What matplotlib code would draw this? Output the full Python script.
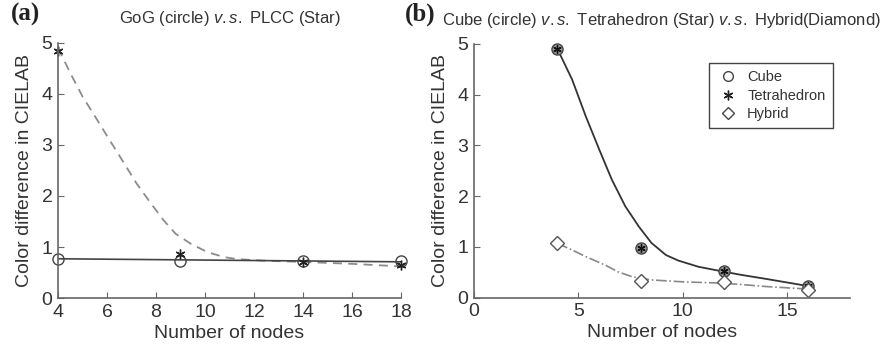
import matplotlib
matplotlib.use('Agg')
import matplotlib.pyplot as plt
from matplotlib.lines import Line2D

plt.rcParams['font.family'] = ['Liberation Sans', 'DejaVu Sans']
plt.rcParams['mathtext.fontset'] = 'custom'
plt.rcParams['mathtext.it'] = 'Liberation Sans:italic'
plt.rcParams['mathtext.rm'] = 'Liberation Sans'

# (a) GoG vs PLCC
nodes_a = [4, 9, 14, 18]
gog = [0.77, 0.73, 0.72, 0.72]
plcc = [4.85, 0.87, 0.71, 0.64]
gog_fit_x = [4, 18]
gog_fit_y = [0.77, 0.71]
plcc_fit_x = [4, 4.5, 5, 5.6, 6.1, 6.7, 7.2, 7.8, 8.3, 8.8, 9.4, 10.1, 10.8, 11.4, 12.5, 13.9, 16, 18]
plcc_fit_y = [4.9, 4.41, 3.95, 3.49, 3.1, 2.64, 2.25, 1.85, 1.53, 1.26, 1.07, 0.9, 0.8, 0.76, 0.73, 0.71, 0.67, 0.62]

# (b) Cube vs Tetrahedron vs Hybrid
nodes_b = [4, 8, 12, 16]
cube = [4.9, 0.97, 0.52, 0.23]
tetra = [4.9, 0.97, 0.52, 0.24]
hybrid = [1.07, 0.33, 0.31, 0.15]
ct_fit_x = [4, 4.7, 5.35, 6, 6.6, 7.25, 7.9, 8.5, 9.2, 9.8, 10.75, 12, 12.8, 14, 16]
ct_fit_y = [4.9, 4.3, 3.58, 2.92, 2.33, 1.8, 1.4, 1.08, 0.84, 0.73, 0.61, 0.51, 0.45, 0.37, 0.23]
hy_fit_x = [4, 4.7, 5.35, 6.3, 6.9, 7.6, 8.5, 10.1, 11.7, 12.8, 14, 16]
hy_fit_y = [1.07, 0.94, 0.81, 0.64, 0.51, 0.41, 0.35, 0.31, 0.29, 0.26, 0.22, 0.17]

axcol = '#666666'
txtcol = '#333333'

fig = plt.figure(figsize=(8.86, 3.49), dpi=100)
ax1 = fig.add_axes([0.0655, 0.146, 0.387, 0.731])
ax2 = fig.add_axes([0.535, 0.147, 0.424, 0.727])


def style(ax):
    for s in ['top', 'right']:
        ax.spines[s].set_visible(False)
    for s in ['left', 'bottom']:
        ax.spines[s].set_color(axcol)
        ax.spines[s].set_linewidth(1.2)
    ax.tick_params(direction='in', length=4, width=0.8, color=axcol,
                   labelsize=14, labelcolor=txtcol, pad=4)
    ax.set_ylim(0, 5)
    ax.set_yticks([0, 1, 2, 3, 4, 5])
    ax.set_xlabel('Number of nodes', fontsize=14, color=txtcol, labelpad=3)
    ax.set_ylabel('Color difference in CIELAB', fontsize=14, color=txtcol, labelpad=6)


# panel (a)
ax1.plot(plcc_fit_x, plcc_fit_y, '--', color='#8c8c8c', lw=1.3, dashes=(5, 3.5))
ax1.plot(gog_fit_x, gog_fit_y, '-', color='#444444', lw=1.2)
ax1.plot(nodes_a, gog, 'o', mfc='none', mec='#444444', ms=8, mew=1, clip_on=False)
ax1.plot(nodes_a, plcc, ls='none', marker=(6, 2, 0), color='#222222', ms=7, mew=1, clip_on=False)
ax1.set_xlim(4, 18)
ax1.set_xticks(range(4, 19, 2))
style(ax1)
ax1.set_title('GoG (circle) $\\it{v.s.}$ PLCC (Star)', fontsize=12, color=txtcol, pad=14)

# panel (b)
ax2.plot(ct_fit_x, ct_fit_y, '-', color='#333333', lw=1.3)
ax2.plot(hy_fit_x, hy_fit_y, '-.', color='#888888', lw=1.2)
ax2.plot(nodes_b, cube, 'o', mfc='#999999', mec='#444444', ms=8, mew=1, clip_on=False)
ax2.plot(nodes_b, tetra, ls='none', marker=(6, 2, 0), color='#111111', ms=6, mew=1, clip_on=False)
ax2.plot(nodes_b, hybrid, 'D', mfc='white', mec='#555555', ms=7, mew=1, clip_on=False)
ax2.set_xlim(0, 18)
ax2.set_xticks([0, 5, 10, 15])
style(ax2)
ax2.set_title('Cube (circle) $\\it{v.s.}$ Tetrahedron (Star) $\\it{v.s.}$ Hybrid(Diamond)',
              fontsize=12, color=txtcol, pad=14)

handles = [
    Line2D([], [], ls='none', marker='o', mfc='none', mec='#444444', ms=7),
    Line2D([], [], ls='none', marker=(6, 2, 0), color='#222222', ms=7),
    Line2D([], [], ls='none', marker='D', mfc='none', mec='#444444', ms=6),
]
leg = ax2.legend(handles, ['Cube', 'Tetrahedron', 'Hybrid'], loc='upper right',
                 bbox_to_anchor=(0.955, 0.925), borderaxespad=0, fontsize=10.5,
                 fancybox=False, framealpha=1, handletextpad=0.6, handlelength=1.5,
                 labelspacing=0.3, borderpad=0.5)
leg.get_frame().set_edgecolor('#444444')
leg.get_frame().set_linewidth(1)
for t in leg.get_texts():
    t.set_color(txtcol)

fig.text(0.012, 0.94, '(a)', fontsize=18, fontweight='bold',
         family='Liberation Serif', color='#222222')
fig.text(0.457, 0.94, '(b)', fontsize=18, fontweight='bold',
         family='Liberation Serif', color='#222222')

fig.savefig('out.png', dpi=100)
